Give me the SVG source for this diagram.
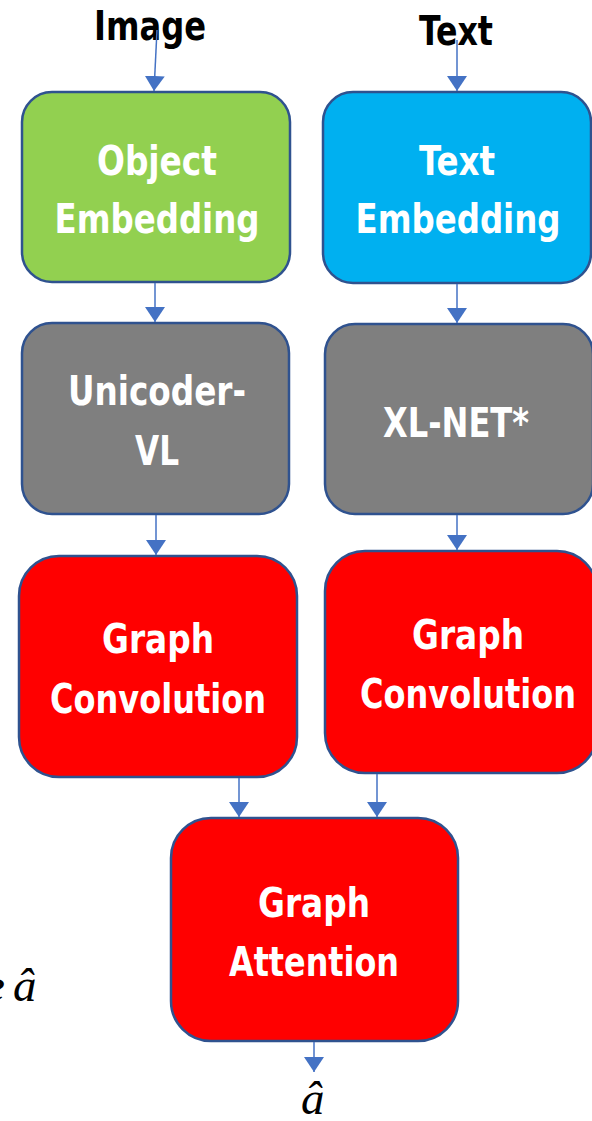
<svg xmlns="http://www.w3.org/2000/svg" width="592" height="1121" viewBox="0 0 592 1121">
  <style>
    .box { stroke: #2F528F; stroke-width: 2.5; }
    .lbl { font-family: "Liberation Sans Narrow", "DejaVu Sans Condensed", "Liberation Sans", sans-serif; font-weight: bold; font-size: 41px; fill: #FFFFFF; text-anchor: middle; }
    .head { font-family: "Liberation Sans Narrow", "DejaVu Sans Condensed", "Liberation Sans", sans-serif; font-weight: bold; font-size: 41px; fill: #000000; text-anchor: middle; }
    .math { font-family: "Liberation Serif", "DejaVu Serif", serif; font-style: italic; font-size: 47px; fill: #000000; }
    .conn { stroke: #4472C4; stroke-width: 1.5; fill: none; marker-end: url(#arr); }
  </style>
  <defs>
    <marker id="arr" viewBox="0 0 15 20" refX="15" refY="10" markerWidth="15" markerHeight="20" markerUnits="userSpaceOnUse" orient="auto">
      <path d="M0,0 L15,10 L0,20 z" fill="#4472C4"/>
    </marker>
  </defs>

  <rect width="592" height="1121" fill="#FFFFFF"/>

  <!-- input labels -->
  <text class="head" x="150" y="40" textLength="112" lengthAdjust="spacingAndGlyphs">Image</text>
  <text class="head" x="456" y="45" textLength="74" lengthAdjust="spacingAndGlyphs">Text</text>

  <g id="object-embedding">
    <rect class="box" x="22" y="92" width="268" height="190" rx="30" fill="#92D050"/>
    <text class="lbl" x="157" y="175" textLength="120" lengthAdjust="spacingAndGlyphs">Object</text>
    <text class="lbl" x="157" y="233" textLength="205" lengthAdjust="spacingAndGlyphs">Embedding</text>
  </g>

  <g id="text-embedding">
    <rect class="box" x="323" y="92" width="268" height="191" rx="30" fill="#00B0F0"/>
    <text class="lbl" x="457" y="175" textLength="76" lengthAdjust="spacingAndGlyphs">Text</text>
    <text class="lbl" x="458" y="233" textLength="205" lengthAdjust="spacingAndGlyphs">Embedding</text>
  </g>

  <g id="unicoder-vl">
    <rect class="box" x="22" y="323" width="267" height="191" rx="30" fill="#7F7F7F"/>
    <text class="lbl" x="157" y="405" textLength="178" lengthAdjust="spacingAndGlyphs">Unicoder-</text>
    <text class="lbl" x="157" y="465" textLength="44" lengthAdjust="spacingAndGlyphs">VL</text>
  </g>

  <g id="xl-net">
    <rect class="box" x="325" y="324" width="268" height="190" rx="30" fill="#7F7F7F"/>
    <text class="lbl" x="456" y="437" textLength="146" lengthAdjust="spacingAndGlyphs">XL-NET*</text>
  </g>

  <g id="graph-conv-left">
    <rect class="box" x="19" y="556" width="278" height="221" rx="40" fill="#FF0000"/>
    <text class="lbl" x="158" y="653" textLength="112" lengthAdjust="spacingAndGlyphs">Graph</text>
    <text class="lbl" x="158" y="713" textLength="216" lengthAdjust="spacingAndGlyphs">Convolution</text>
  </g>

  <g id="graph-conv-right">
    <rect class="box" x="325" y="551" width="272" height="222" rx="40" fill="#FF0000"/>
    <text class="lbl" x="468" y="649" textLength="112" lengthAdjust="spacingAndGlyphs">Graph</text>
    <text class="lbl" x="468" y="708" textLength="216" lengthAdjust="spacingAndGlyphs">Convolution</text>
  </g>

  <g id="graph-attention">
    <rect class="box" x="171" y="818" width="287" height="223" rx="40" fill="#FF0000"/>
    <text class="lbl" x="314" y="917" textLength="112" lengthAdjust="spacingAndGlyphs">Graph</text>
    <text class="lbl" x="314" y="976" textLength="170" lengthAdjust="spacingAndGlyphs">Attention</text>
  </g>

  <g id="connectors">
    <line class="conn" x1="157" y1="30" x2="154" y2="91"/>
    <line class="conn" x1="457" y1="40" x2="457" y2="91"/>
    <line class="conn" x1="155" y1="283" x2="155" y2="322"/>
    <line class="conn" x1="457" y1="284" x2="457" y2="323"/>
    <line class="conn" x1="156" y1="515" x2="156" y2="555"/>
    <line class="conn" x1="457" y1="515" x2="457" y2="550"/>
    <line class="conn" x1="239" y1="778" x2="239" y2="817"/>
    <line class="conn" x1="377" y1="774" x2="377" y2="817"/>
    <line class="conn" x1="314" y1="1042" x2="314" y2="1072"/>
  </g>

  <!-- output symbols -->
  <text class="math" x="-16" y="1001">e</text>
  <text class="math" x="13" y="1001">â</text>
  <text class="math" x="301" y="1114">â</text>
</svg>
